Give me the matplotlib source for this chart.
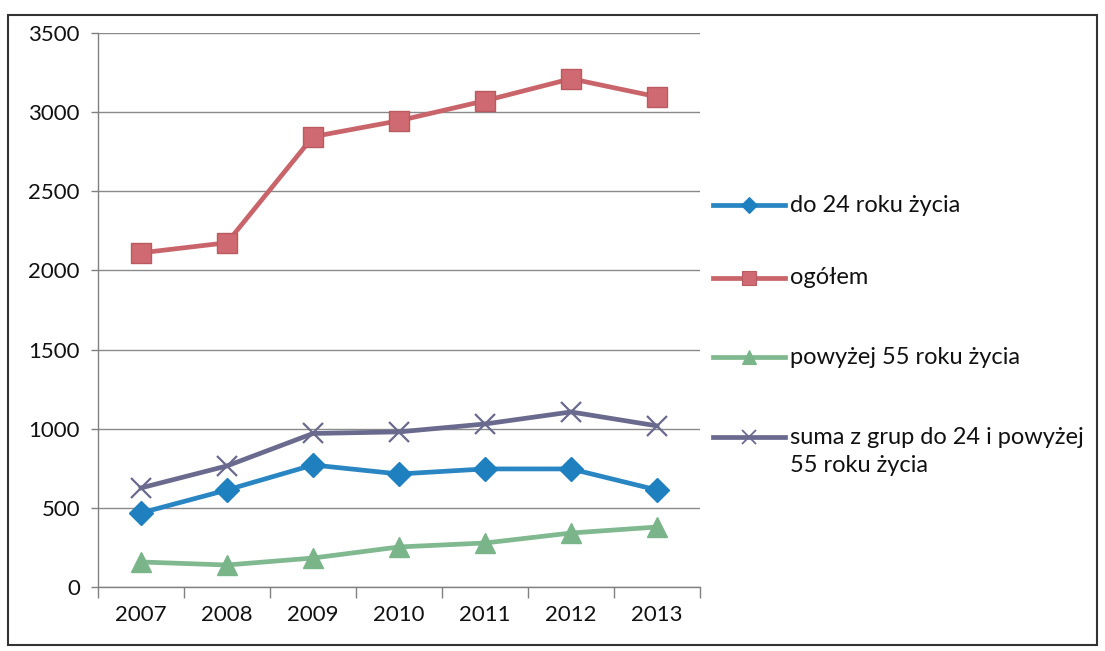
import matplotlib
matplotlib.use("Agg")
import matplotlib.pyplot as plt
from matplotlib.lines import Line2D
from matplotlib.patches import Rectangle

years = ["2007", "2008", "2009", "2010", "2011", "2012", "2013"]
do_24 = [468, 613, 771, 714, 746, 746, 613]
ogolem = [2111, 2175, 2845, 2946, 3072, 3211, 3097]
powyzej_55 = [158, 139, 183, 253, 278, 341, 379]
suma = [626, 765, 970, 980, 1030, 1106, 1018]

labels = ["do 24 roku życia", "ogółem", "powyżej 55 roku życia",
          "suma z grup do 24 i powyżej\n55 roku życia"]
yticks = [0, 500, 1000, 1500, 2000, 2500, 3000, 3500]

plt.rcParams['font.family'] = ['Lato', 'DejaVu Sans']

fig = plt.figure(figsize=(11.05, 6.51), dpi=100)
ax = fig.add_axes([98/1105, 1-587/651, 602/1105, 554/651])

x = list(range(len(years)))
styles = [
    dict(color="#2a86c2", marker="D", ms=12, mfc="#1f80c0", mec="#1f80c0", mew=1, lw=3.4),
    dict(color="#c8646a", marker="s", ms=15, mfc="#d06a72", mec="#b85a60", mew=1, lw=3.4),
    dict(color="#80b890", marker="^", ms=15, mfc="#7ab58a", mec="#7ab58a", mew=1, lw=3.4),
    dict(color="#6a6a8e", marker="x", ms=15, mfc="none", mec="#6a6a8e", mew=1.6, lw=3.4),
]
series = [do_24, ogolem, powyzej_55, suma]
for vals, st, lab in zip(series, styles, labels):
    ax.plot(x, vals, label=lab, zorder=3, **st)

ax.set_xlim(-0.5, len(years) - 0.5)
ax.set_ylim(0, 3500)
ax.set_yticks(yticks)
ax.set_yticklabels([str(v) for v in yticks])
ax.set_xticks(x)
ax.set_xticklabels(years)
ax.set_xticks([i - 0.5 for i in range(len(years) + 1)], minor=True)
ax.tick_params(axis='x', which='major', length=0, labelsize=16, pad=13, colors='#111111')
ax.tick_params(axis='x', which='minor', length=8, width=1, color='#808080')
ax.tick_params(axis='y', length=5, width=1, color='#808080', labelsize=16, pad=8, labelcolor='#111111')
ax.yaxis.grid(True, color='#8a8a8a', lw=1)
ax.set_axisbelow(True)
for s in ['top', 'right']:
    ax.spines[s].set_visible(False)
for s in ['left', 'bottom']:
    ax.spines[s].set_color('#808080')
    ax.spines[s].set_linewidth(1)

# manual legend
leg_y = [205, 278, 357, 437]
for st, lab, yy in zip(styles, labels, leg_y):
    yf = 1 - yy/651
    fig.add_artist(Line2D([713/1105, 785/1105], [yf, yf], transform=fig.transFigure,
                          color=st['color'], lw=3.4))
    fig.add_artist(Line2D([749/1105], [yf], transform=fig.transFigure, ls='none',
                          marker=st['marker'], ms=st['ms'] * 0.7, mfc=st['mfc'],
                          mec=st['mec'], mew=st['mew'] * 0.8))
    if '\n' in lab:
        first, second = lab.split('\n')
        fig.text(790/1105, yf, first, fontsize=17, va='center', ha='left', color='#111111')
        fig.text(790/1105, yf - 29/651, second, fontsize=17, va='center', ha='left',
                 color='#111111')
    else:
        fig.text(790/1105, yf, lab, fontsize=17, va='center', ha='left',
                 color='#111111')

fig.add_artist(Rectangle((8/1105, 1-645/651), 1089/1105, 630/651, transform=fig.transFigure,
                         fill=False, ec='#333333', lw=1.5))

fig.savefig("out.png", dpi=100, facecolor='white')
